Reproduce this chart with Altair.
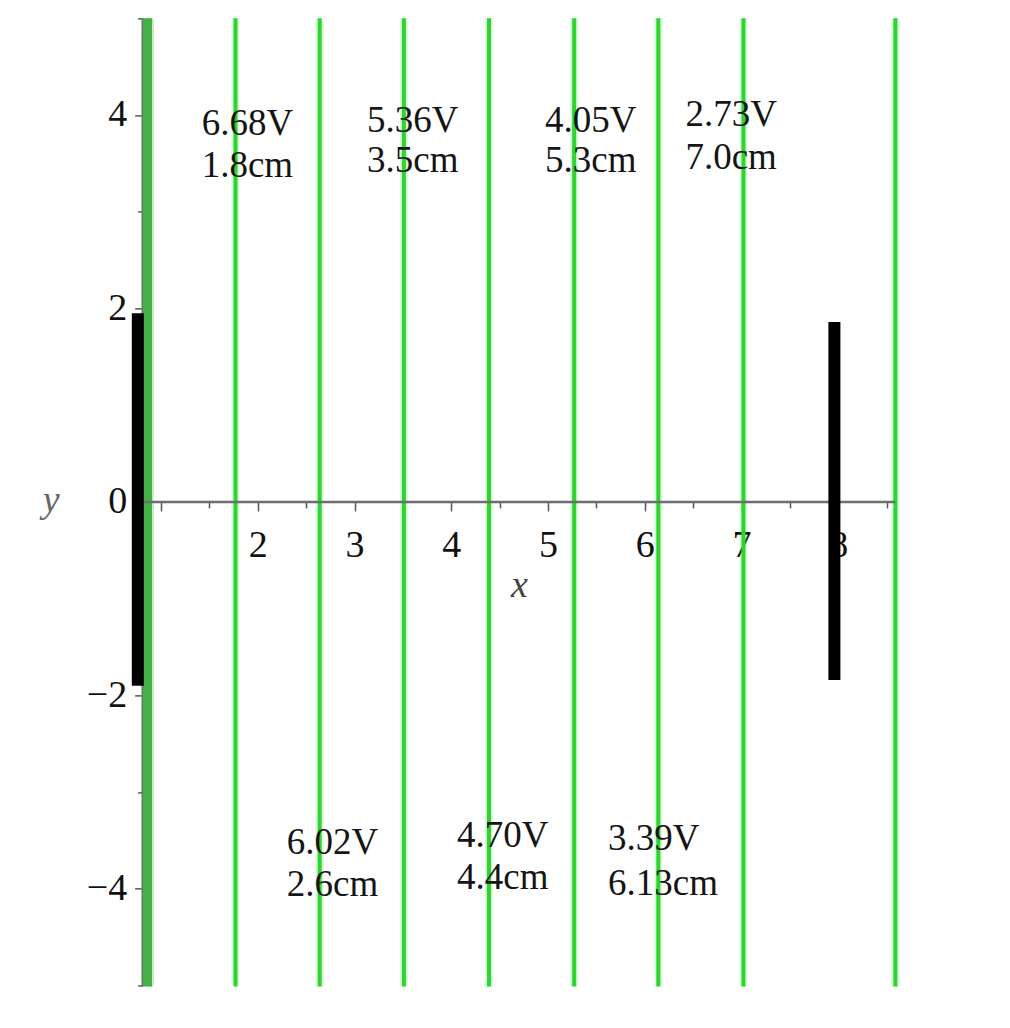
import altair as alt
import pandas as pd

# ---- data ----
green_x = [1.77, 2.64, 3.51, 4.39, 5.27, 6.14, 7.02, 8.59]   # thin equipotential lines
edge_x = [0.86]                                              # thick line at the left electrode
line_top = 5.0
line_bottom = -5.01

plate_x = [0.76, 7.96]
plate_top = [1.95, 1.86]
plate_bottom = [-1.90, -1.84]

volts = ["6.68V", "5.36V", "4.05V", "2.73V", "6.02V", "4.70V", "3.39V"]
dists = ["1.8cm", "3.5cm", "5.3cm", "7.0cm", "2.6cm", "4.4cm", "6.13cm"]
label_x = [1.42, 3.13, 4.97, 6.42, 2.30, 4.06, 5.62]
volt_y = [3.91, 3.94, 3.94, 4.00, -3.53, -3.45, -3.49]
dist_y = [3.47, 3.52, 3.52, 3.55, -3.96, -3.89, -3.95]

axis_x0 = 0.81
axis_x1 = 8.59
x_ticks = [1, 1.5, 2, 2.5, 3, 3.5, 4, 4.5, 5, 5.5, 6, 6.5, 7, 7.5, 8, 8.5]
y_ticks = [-5, -4, -3, -2, -1, 0, 1, 2, 3, 4, 5]

x_domain = [0.7, 8.7]
y_domain = [-5.05, 5.05]

W = 774
H = 977
FONT = "Liberation Serif"

xs = alt.Scale(domain=x_domain, nice=False, zero=False)
ys = alt.Scale(domain=y_domain, nice=False, zero=False)

x_axis = alt.Axis(
    values=x_ticks, orient="bottom", offset=-H / 2, domain=False, grid=False,
    format="~g",
    labelExpr="datum.value % 1 == 0 && datum.value >= 2 ? datum.label : ''",
    tickSize={"condition": {"test": "datum.value % 1 == 0", "value": 9}, "value": 6},
    tickColor="#555555", tickWidth=1.5,
    labelFont=FONT, labelFontSize=38, labelColor="#111111", labelPadding=16,
    labelOverlap=False, labelFlush=False,
    title="x", titleFont=FONT, titleFontSize=38, titleFontStyle="italic",
    titleFontWeight="normal", titleColor="#444444",
    titleX=387, titleY=95, titleAlign="center", titleBaseline="alphabetic",
)
y_axis = alt.Axis(
    values=y_ticks, orient="left", offset=-(axis_x0 - x_domain[0]) * 96.75,
    domain=False, grid=False, format="~g",
    labelExpr="datum.value % 2 == 0 ? datum.label : ''",
    tickSize={"condition": {"test": "datum.value % 2 == 0", "value": 8}, "value": 5},
    tickColor="#555555", tickWidth=1.5,
    labelFont=FONT, labelFontSize=38, labelColor="#111111", labelPadding=8,
    labelOverlap=False, labelFlush=False, labelBaseline="middle",
    title="y", titleFont=FONT, titleFontSize=38, titleFontStyle="italic",
    titleFontWeight="normal", titleColor="#666666", titleAngle=0,
    titleX=-92, titleY=498.6, titleAlign="center", titleBaseline="alphabetic",
)

def X(field):
    return alt.X(field, type="quantitative", scale=xs, axis=x_axis)

def Y(field):
    return alt.Y(field, type="quantitative", scale=ys, axis=y_axis)

green_df = pd.DataFrame({"x": green_x, "y": [line_top] * len(green_x),
                         "y2": [line_bottom] * len(green_x)})
edge_df = pd.DataFrame({"x": edge_x, "y": [line_top] * len(edge_x),
                        "y2": [line_bottom] * len(edge_x)})
plate_df = pd.DataFrame({"x": plate_x, "y": plate_top, "y2": plate_bottom})
xaxis_df = pd.DataFrame({"x": [axis_x0], "x2": [axis_x1], "y": [0]})
yaxis_df = pd.DataFrame({"x": [axis_x0], "y": [line_top], "y2": [line_bottom]})
lab_df = pd.DataFrame({"x": label_x, "v": volts, "d": dists, "yv": volt_y, "yd": dist_y})

halo = alt.Chart(green_df).mark_rule(color="#2ed52e", opacity=0.18, strokeWidth=8,
                                      clip=False).encode(
    x=X("x"), y=Y("y"), y2="y2")
green = alt.Chart(green_df).mark_rule(color="#2ed52e", strokeWidth=4, clip=False).encode(
    x=X("x"), y=Y("y"), y2="y2")
yline = alt.Chart(yaxis_df).mark_rule(color="#707070", strokeWidth=2, clip=False).encode(
    x=X("x"), y=Y("y"), y2="y2")
edge_halo = alt.Chart(edge_df).mark_rule(color="#2ed52e", opacity=0.3, strokeWidth=13,
                                          clip=False).encode(
    x=X("x"), y=Y("y"), y2="y2")
edge = alt.Chart(edge_df).mark_rule(color="#45b045", strokeWidth=9, clip=False).encode(
    x=X("x"), y=Y("y"), y2="y2")
xline = alt.Chart(xaxis_df).mark_rule(color="#6e6e6e", strokeWidth=2.5, clip=False).encode(
    x=X("x"), x2="x2", y=Y("y"))
plates = alt.Chart(plate_df).mark_rule(color="#000000", strokeWidth=12, strokeCap="butt",
                                        clip=False).encode(
    x=X("x"), y=Y("y"), y2="y2")
vtext = alt.Chart(lab_df).mark_text(font=FONT, fontSize=37, align="left", baseline="middle",
                                    color="#151515").encode(
    x=X("x"), y=Y("yv"), text="v:N")
dtext = alt.Chart(lab_df).mark_text(font=FONT, fontSize=37, align="left", baseline="middle",
                                    color="#151515").encode(
    x=X("x"), y=Y("yd"), text="d:N")

chart = alt.layer(halo, edge_halo, green, yline, edge, xline, plates, vtext, dtext).properties(
    width=W, height=H,
    autosize=alt.AutoSizeParams(type="none"),
    padding={"left": 124, "top": 5.4, "right": 10, "bottom": 10},
    background="white",
).configure_view(stroke=None)

chart.save("out.html", embed_options={"renderer": "svg", "actions": False})
